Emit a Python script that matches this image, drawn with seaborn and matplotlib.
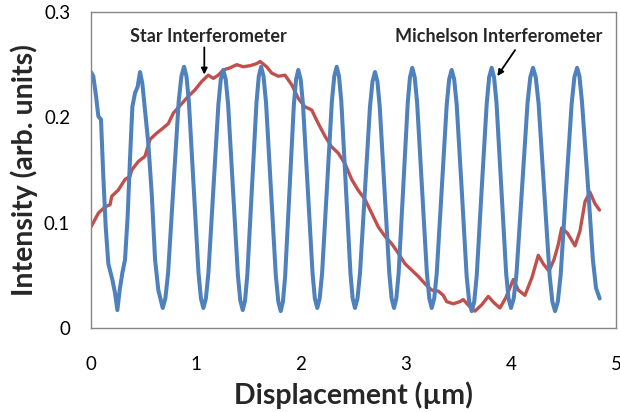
import matplotlib
matplotlib.use("Agg")
import matplotlib.pyplot as plt
import seaborn as sns

# ---- data ----
# Michelson interferometer (blue), displacement in um
michelson_x = [0.000, 0.022, 0.048, 0.070, 0.095, 0.117, 0.140, 0.165, 0.203, 0.229,
               0.251, 0.273, 0.298, 0.324, 0.349, 0.371, 0.394, 0.419, 0.444, 0.467,
               0.489, 0.514, 0.546, 0.578, 0.610, 0.641, 0.683,
               0.708, 0.734, 0.785, 0.835, 0.861, 0.886,
               0.909, 0.932, 0.978, 1.024, 1.047, 1.070,
               1.094, 1.118, 1.165, 1.213, 1.236, 1.260,
               1.283, 1.306, 1.353, 1.399, 1.422, 1.445,
               1.467, 1.489, 1.533, 1.576, 1.598, 1.620,
               1.643, 1.667, 1.714, 1.760, 1.784, 1.807,
               1.828, 1.849, 1.891, 1.932, 1.953, 1.974,
               1.997, 2.019, 2.065, 2.110, 2.132, 2.155,
               2.178, 2.201, 2.248, 2.294, 2.317, 2.340,
               2.362, 2.384, 2.427, 2.471, 2.492, 2.514,
               2.538, 2.562, 2.610, 2.657, 2.681, 2.705,
               2.728, 2.750, 2.796, 2.841, 2.863, 2.886,
               2.908, 2.930, 2.973, 3.017, 3.038, 3.060,
               3.083, 3.106, 3.153, 3.199, 3.222, 3.245,
               3.269, 3.293, 3.340, 3.388, 3.411, 3.435,
               3.459, 3.483, 3.531, 3.578, 3.602, 3.626,
               3.650, 3.674, 3.721, 3.769, 3.792, 3.816,
               3.839, 3.862, 3.908, 3.954, 3.977, 4.000,
               4.026, 4.053, 4.105, 4.158, 4.184, 4.210,
               4.236, 4.263, 4.315, 4.368, 4.394, 4.420,
               4.446, 4.473, 4.525, 4.578, 4.604, 4.630,
               4.652, 4.676, 4.730, 4.780, 4.810, 4.845]
michelson_y = [0.243, 0.239, 0.220, 0.201, 0.198, 0.144, 0.096, 0.061, 0.046, 0.033,
               0.017, 0.036, 0.052, 0.065, 0.106, 0.160, 0.210, 0.223, 0.229, 0.243,
               0.232, 0.207, 0.175, 0.128, 0.065, 0.036, 0.019,
               0.028, 0.052, 0.134, 0.215, 0.239, 0.248,
               0.239, 0.215, 0.134, 0.052, 0.028, 0.019,
               0.028, 0.052, 0.132, 0.212, 0.236, 0.245,
               0.236, 0.212, 0.131, 0.050, 0.026, 0.017,
               0.026, 0.051, 0.133, 0.214, 0.239, 0.248,
               0.239, 0.214, 0.132, 0.050, 0.025, 0.016,
               0.025, 0.049, 0.131, 0.212, 0.236, 0.245,
               0.236, 0.212, 0.132, 0.052, 0.028, 0.019,
               0.028, 0.052, 0.134, 0.215, 0.239, 0.248,
               0.239, 0.215, 0.134, 0.052, 0.028, 0.019,
               0.028, 0.052, 0.131, 0.210, 0.234, 0.243,
               0.234, 0.210, 0.131, 0.052, 0.028, 0.019,
               0.028, 0.052, 0.133, 0.214, 0.238, 0.247,
               0.238, 0.214, 0.133, 0.052, 0.028, 0.019,
               0.028, 0.052, 0.132, 0.212, 0.236, 0.245,
               0.236, 0.212, 0.131, 0.049, 0.025, 0.016,
               0.025, 0.050, 0.132, 0.213, 0.238, 0.247,
               0.238, 0.214, 0.133, 0.052, 0.028, 0.019,
               0.028, 0.052, 0.133, 0.214, 0.238, 0.247,
               0.238, 0.213, 0.132, 0.050, 0.025, 0.016,
               0.025, 0.050, 0.132, 0.213, 0.238, 0.247,
               0.239, 0.215, 0.140, 0.065, 0.038, 0.028]

# Star interferometer (red)
star_x = [0.000, 0.070, 0.133, 0.181, 0.197, 0.260, 0.324, 0.371, 0.388, 0.450,
          0.514, 0.562, 0.626, 0.689, 0.736, 0.784, 0.864, 0.927, 0.990, 1.054,
          1.117, 1.165, 1.212, 1.260, 1.324, 1.388, 1.450, 1.514, 1.578, 1.610,
          1.673, 1.721, 1.784, 1.848, 1.911, 1.974, 2.038, 2.102, 2.165, 2.229,
          2.292, 2.355, 2.419, 2.483, 2.543, 2.610, 2.673, 2.736, 2.800, 2.864,
          2.927, 2.990, 3.054, 3.117, 3.181, 3.245, 3.308, 3.355, 3.388, 3.450,
          3.514, 3.545, 3.610, 3.657, 3.721, 3.784, 3.838, 3.895, 3.952, 4.022,
          4.070, 4.133, 4.200, 4.260, 4.307, 4.362, 4.410, 4.450, 4.483, 4.538,
          4.610, 4.657, 4.705, 4.752, 4.800, 4.843]
star_y = [0.096, 0.109, 0.115, 0.117, 0.125, 0.131, 0.141, 0.144, 0.150, 0.158,
          0.163, 0.179, 0.185, 0.190, 0.194, 0.204, 0.213, 0.220, 0.226, 0.234,
          0.240, 0.237, 0.240, 0.245, 0.247, 0.250, 0.248, 0.249, 0.251, 0.253,
          0.248, 0.242, 0.239, 0.240, 0.231, 0.218, 0.210, 0.207, 0.194, 0.182,
          0.172, 0.166, 0.156, 0.141, 0.131, 0.122, 0.109, 0.096, 0.087, 0.080,
          0.071, 0.061, 0.055, 0.049, 0.042, 0.036, 0.035, 0.031, 0.025, 0.023,
          0.025, 0.027, 0.020, 0.016, 0.022, 0.030, 0.024, 0.019, 0.029, 0.046,
          0.036, 0.031, 0.048, 0.069, 0.061, 0.054, 0.065, 0.079, 0.095, 0.090,
          0.078, 0.092, 0.120, 0.129, 0.118, 0.112]

x_ticks = [0, 1, 2, 3, 4, 5]
y_ticks = [0, 0.1, 0.2, 0.3]
y_tick_labels = ["0", "0.1", "0.2", "0.3"]

# ---- figure ----
sns.set_style("white")
plt.rcParams["font.family"] = ["Lato", "DejaVu Sans"]

fig = plt.figure(figsize=(6.2, 4.12), dpi=100)
ax = fig.add_axes([0.1468, 0.2039, 0.8467, 0.767])

sns.lineplot(x=star_x, y=star_y, color="#C0504D", linewidth=2.4,
             sort=False, estimator=None, ax=ax)
sns.lineplot(x=michelson_x, y=michelson_y, color="#4F81BD", linewidth=2.9,
             sort=False, estimator=None, ax=ax)

ax.set_xlim(0, 5)
ax.set_ylim(0, 0.3)
ax.set_xticks(x_ticks)
ax.set_xticklabels([str(t) for t in x_ticks])
ax.set_yticks(y_ticks)
ax.set_yticklabels(y_tick_labels)
ax.tick_params(axis="both", length=0, labelsize=13.5, colors="black")
ax.tick_params(axis="x", pad=20)
ax.tick_params(axis="y", pad=15)

for sp in ax.spines.values():
    sp.set_visible(True)
    sp.set_color("#868686")
    sp.set_linewidth(1.0)

ax.set_xlabel("Displacement (µm)", fontsize=20.5, fontweight="bold", labelpad=6)
ax.set_ylabel("Intensity (arb. units)", fontsize=20.5, fontweight="bold", labelpad=4)

# annotations
ax.text(1.114, 0.277, "Star Interferometer", ha="center", va="center",
        fontsize=13, fontweight="bold")
ax.annotate("", xy=(1.079, 0.238), xytext=(1.079, 0.269),
            arrowprops=dict(arrowstyle="-|>", color="black", lw=1.3, mutation_scale=9))
ax.text(3.886, 0.277, "Michelson Interferometer", ha="center", va="center",
        fontsize=13, fontweight="bold")
ax.annotate("", xy=(3.855, 0.237), xytext=(4.054, 0.266),
            arrowprops=dict(arrowstyle="-|>", color="black", lw=1.3, mutation_scale=9))

fig.savefig("out.png", dpi=100)
